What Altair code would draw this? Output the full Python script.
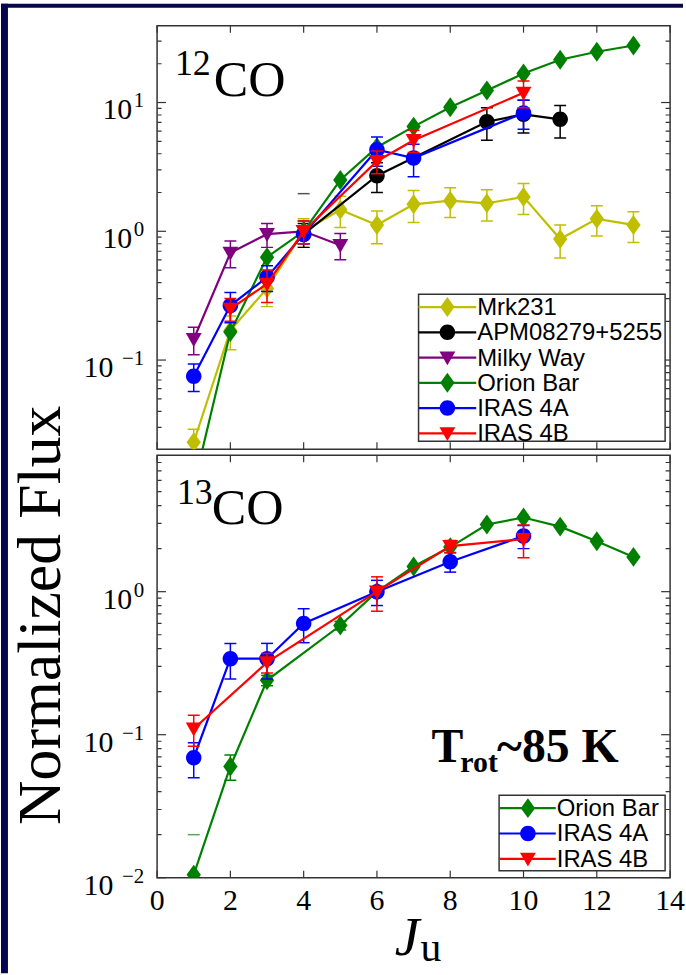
import altair as alt
import pandas as pd

# ---------------- data ----------------
series_names = ["Mrk231", "APM08279+5255", "Milky Way", "Orion Bar", "IRAS 4A", "IRAS 4B"]
series_colors = ["#bfbf00", "#000000", "#800080", "#008000", "#0000ff", "#ff0000"]

# 12CO panel
co12_mrk_J = [1, 2, 3, 4, 5, 6, 7, 8, 9, 10, 11, 12, 13]
co12_mrk_F = [0.023, 0.17, 0.36, 1.0, 1.47, 1.12, 1.62, 1.73, 1.65, 1.85, 0.87, 1.25, 1.12]
co12_mrk_E = [0.006, 0.05, 0.10, 0.25, 0.40, 0.32, 0.45, 0.45, 0.45, 0.50, 0.25, 0.33, 0.30]

co12_apm_J = [4, 6, 9, 10, 11]
co12_apm_F = [0.95, 2.7, 7.1, 8.1, 7.4]
co12_apm_E = [0.2, 0.7, 2.0, 2.3, 2.1]

co12_mw_J = [1, 2, 3, 4, 5]
co12_mw_F = [0.145, 0.68, 0.95, 1.0, 0.78]
co12_mw_E = [0.035, 0.16, 0.20, 0.20, 0.18]

co12_ori_J = [1, 2, 3, 4, 5, 6, 7, 8, 9, 10, 11, 12, 13]
co12_ori_F = [0.0105, 0.165, 0.63, 1.0, 2.5, 4.5, 6.5, 9.2, 12.4, 16.8, 21.5, 24.8, 27.7]
co12_ori_E = [0, 0, 0, 0, 0, 0, 0, 0, 0, 0, 0, 0, 0]

co12_4a_J = [1, 2, 3, 4, 6, 7, 10]
co12_4a_F = [0.075, 0.265, 0.44, 0.95, 4.3, 3.7, 8.3]
co12_4a_E = [0.018, 0.07, 0.10, 0.15, 1.1, 1.05, 2.1]

co12_4b_J = [2, 3, 4, 6, 7, 10]
co12_4b_F = [0.25, 0.39, 1.0, 3.5, 5.1, 11.9]
co12_4b_E = [0.05, 0.11, 0.2, 0.7, 1.0, 2.8]

co12_stray_J = [4]
co12_stray_F = [1.96]

# 13CO panel
co13_ori_J = [1, 2, 3, 5, 6, 7, 8, 9, 10, 11, 12, 13]
co13_ori_F = [0.0105, 0.06, 0.24, 0.58, 1.0, 1.5, 2.05, 2.95, 3.3, 2.85, 2.25, 1.75]
co13_ori_E = [0, 0.012, 0.02, 0.04, 0, 0, 0, 0, 0, 0, 0, 0]

co13_4a_J = [1, 2, 3, 4, 6, 8, 10]
co13_4a_F = [0.069, 0.34, 0.34, 0.6, 1.0, 1.62, 2.45]
co13_4a_E = [0.019, 0.095, 0.095, 0.16, 0.2, 0.25, 0.45]

co13_4b_J = [1, 3, 6, 8, 10]
co13_4b_F = [0.11, 0.32, 1.0, 2.08, 2.33]
co13_4b_E = [0.027, 0.05, 0.27, 0.2, 0.6]

co13_stray_J = [1]
co13_stray_F = [0.02]

x_tick_values = [0, 2, 4, 6, 8, 10, 12, 14]
top_major = [0.1, 1, 10]
top_major_exp = ["\u22121", "0", "1"]
bot_major = [0.01, 0.1, 1]
bot_major_exp = ["\u22122", "\u22121", "0"]
minor_mult = [2, 3, 4, 5, 6, 7, 8, 9]

# ---------------- styling ----------------
SERIF = "Liberation Serif"
SANS = "Liberation Sans"
W, H1, H2 = 516, 426, 425
NAVY = "#050550"

DIAMOND = "M0,-1L0.72,0L0,1L-0.72,0Z"
CIRCLE = "M-0.78,0A0.78,0.78,0,1,0,0.78,0A0.78,0.78,0,1,0,-0.78,0Z"
TRI_DOWN = "M-0.8,-0.62L0.8,-0.62L0,0.78Z"
series_shapes = [DIAMOND, CIRCLE, TRI_DOWN, DIAMOND, CIRCLE, TRI_DOWN]
MSIZE = 400

xs = alt.Scale(domain=[0, 14], nice=False, zero=False)
ys_top = alt.Scale(type="log", domain=[0.0203, 39.5], nice=False)
ys_bot = alt.Scale(type="log", domain=[0.01, 9.0], nice=False)

dummy = pd.DataFrame({"v": [0]})


def series_layers(J, F, E, color, shape, ys):
    df = pd.DataFrame({"J": J, "F": F, "E": E})
    base = alt.Chart(df).transform_calculate(lo="datum.F - datum.E", hi="datum.F + datum.E")
    X = alt.X("J:Q", scale=xs, axis=None)
    line = base.mark_line(color=color, strokeWidth=2.2, clip=True).encode(
        x=X, y=alt.Y("F:Q", scale=ys, axis=None))
    eb = base.transform_filter("datum.E > 0")
    bar = eb.mark_rule(color=color, strokeWidth=1.5, clip=True).encode(
        x=X, y=alt.Y("lo:Q", scale=ys, axis=None), y2="hi:Q")
    caphi = eb.mark_rule(color=color, strokeWidth=1.5, clip=True, xOffset=-6, x2Offset=6).encode(
        x=X, x2="J:Q", y=alt.Y("hi:Q", scale=ys, axis=None))
    caplo = eb.mark_rule(color=color, strokeWidth=1.5, clip=True, xOffset=-6, x2Offset=6).encode(
        x=X, x2="J:Q", y=alt.Y("lo:Q", scale=ys, axis=None))
    pts = base.mark_point(shape=shape, size=MSIZE, filled=True, color=color, opacity=1,
                          clip=True).encode(x=X, y=alt.Y("F:Q", scale=ys, axis=None))
    return [line, bar, caphi, caplo, pts]


def stray_caps(J, F, color, ys):
    df = pd.DataFrame({"J": J, "F": F})
    return alt.Chart(df).mark_rule(color=color, strokeWidth=1.5, xOffset=-6, x2Offset=6).encode(
        x=alt.X("J:Q", scale=xs, axis=None), x2="J:Q", y=alt.Y("F:Q", scale=ys, axis=None))


def tick_layers(H, ys, major, major_exp, show_x_labels):
    lo, hi = ys.domain
    minor = [m * d for d in [0.001, 0.01, 0.1, 1, 10] for m in minor_mult if lo <= m * d <= hi]
    dx = pd.DataFrame({"t": x_tick_values})
    dmaj = pd.DataFrame({"t": major, "e": major_exp})
    dmin = pd.DataFrame({"t": minor})
    tk = dict(color="#333333", strokeWidth=1.2)
    X = alt.X("t:Q", scale=xs, axis=None)
    Yt = alt.Y("t:Q", scale=ys, axis=None)
    layers = [
        alt.Chart(dx).mark_rule(**tk).encode(x=X, y=alt.value(H), y2=alt.value(H - 7)),
        alt.Chart(dx).mark_rule(**tk).encode(x=X, y=alt.value(0), y2=alt.value(7)),
        alt.Chart(dmaj).mark_rule(**tk).encode(y=Yt, x=alt.value(0), x2=alt.value(9)),
        alt.Chart(dmaj).mark_rule(**tk).encode(y=Yt, x=alt.value(W), x2=alt.value(W - 9)),
        alt.Chart(dmin).mark_rule(clip=True, **tk).encode(y=Yt, x=alt.value(0), x2=alt.value(4.5)),
        alt.Chart(dmin).mark_rule(clip=True, **tk).encode(y=Yt, x=alt.value(W), x2=alt.value(W - 4.5)),
    ]
    # y tick labels: "10" with a raised exponent
    lab = alt.Chart(dmaj).transform_calculate(
        bx="-13 - (length(datum.e) > 1 ? 31 : 12)", base="'10'")
    layers.append(lab.mark_text(align="right", baseline="alphabetic", font=SERIF, fontSize=30,
                                color="black", dy=17).encode(
        y=Yt, x=alt.X("bx:Q", scale=None, axis=None), text="base:N"))
    layers.append(alt.Chart(dmaj).mark_text(align="right", baseline="alphabetic", font=SERIF,
                                            fontSize=21, color="black", dy=5).encode(
        y=Yt, x=alt.value(-13), text="e:N"))
    if show_x_labels:
        layers.append(alt.Chart(dx).mark_text(align="center", baseline="top", font=SERIF,
                                              fontSize=30, color="black").encode(
            x=X, y=alt.value(H + 8), text=alt.Text("t:Q", format="d")))
    return layers


def txt(s, x, y, size, font=SERIF, weight="normal", style="normal", align="left",
        baseline="alphabetic", angle=0, color="black"):
    return alt.Chart(dummy).mark_text(text=s, fontSize=size, font=font, fontWeight=weight,
                                      fontStyle=style, align=align, baseline=baseline,
                                      angle=angle, color=color).encode(x=alt.value(x), y=alt.value(y))


def legend_layers(idx, box, row_y0, row_dy, line_x0, line_x1, marker_x, label_x):
    names = [series_names[i] for i in idx]
    colors = [series_colors[i] for i in idx]
    shapes = [series_shapes[i] for i in idx]
    df = pd.DataFrame({"series": names, "row": list(range(len(names)))})
    base = alt.Chart(df).transform_calculate(ly=f"{row_y0} + {row_dy} * datum.row")
    Y = alt.Y("ly:Q", scale=None, axis=None)
    C = alt.Color("series:N", scale=alt.Scale(domain=names, range=colors), legend=None)
    S = alt.Shape("series:N", scale=alt.Scale(domain=names, range=shapes), legend=None)
    x0, x1, y0, y1 = box
    boxl = alt.Chart(dummy).mark_rect(fill="white", stroke="#333333", strokeWidth=1.5).encode(
        x=alt.value(x0), x2=alt.value(x1), y=alt.value(y0), y2=alt.value(y1))
    lines = base.mark_rule(strokeWidth=2.2).encode(x=alt.value(line_x0), x2=alt.value(line_x1), y=Y, color=C)
    marks = base.mark_point(size=MSIZE, filled=True, opacity=1).encode(
        x=alt.value(marker_x), y=Y, color=C, shape=S)
    labels = base.mark_text(align="left", baseline="middle", font=SANS, fontSize=24,
                            color="black", dy=1).encode(x=alt.value(label_x), y=Y, text="series:N")
    return [boxl, lines, marks, labels]


# ---------------- top panel (12CO) ----------------
frame = [
    alt.Chart(dummy).mark_rect(color=NAVY).encode(
        x=alt.value(-157), x2=alt.value(-150), y=alt.value(-22), y2=alt.value(953)),
    alt.Chart(dummy).mark_rect(color=NAVY).encode(
        x=alt.value(-157), x2=alt.value(529), y=alt.value(-22), y2=alt.value(-18)),
]

top_layers = frame + tick_layers(H1, ys_top, top_major, top_major_exp, False)
top_layers += series_layers(co12_mrk_J, co12_mrk_F, co12_mrk_E, series_colors[0], DIAMOND, ys_top)
top_layers += series_layers(co12_apm_J, co12_apm_F, co12_apm_E, series_colors[1], CIRCLE, ys_top)
top_layers += series_layers(co12_mw_J, co12_mw_F, co12_mw_E, series_colors[2], TRI_DOWN, ys_top)
top_layers += series_layers(co12_ori_J, co12_ori_F, co12_ori_E, series_colors[3], DIAMOND, ys_top)
top_layers += series_layers(co12_4a_J, co12_4a_F, co12_4a_E, series_colors[4], CIRCLE, ys_top)
top_layers += series_layers(co12_4b_J, co12_4b_F, co12_4b_E, series_colors[5], TRI_DOWN, ys_top)
top_layers.append(stray_caps(co12_stray_J, co12_stray_F, "#555555", ys_top))
top_layers += legend_layers([0, 1, 2, 3, 4, 5], (263, 511, 270, 418), 283, 25.4, 263, 321, 292, 322)
top_layers += [txt("12", 18, 50, 36), txt("CO", 57, 71, 52)]

top = alt.layer(*top_layers).properties(width=W, height=H1)

# ---------------- bottom panel (13CO) ----------------
bot_layers = tick_layers(H2, ys_bot, bot_major, bot_major_exp, True)
bot_layers += series_layers(co13_ori_J, co13_ori_F, co13_ori_E, series_colors[3], DIAMOND, ys_bot)
bot_layers += series_layers(co13_4a_J, co13_4a_F, co13_4a_E, series_colors[4], CIRCLE, ys_bot)
bot_layers += series_layers(co13_4b_J, co13_4b_F, co13_4b_E, series_colors[5], TRI_DOWN, ys_bot)
bot_layers.append(stray_caps(co13_stray_J, co13_stray_F, "#55aa55", ys_bot))
bot_layers += legend_layers([3, 4, 5], (344, 511, 342, 418), 355, 25.5, 344, 401, 373, 402)
bot_layers += [
    txt("13", 20, 49, 36), txt("CO", 55, 69, 52),
    txt("T", 276, 309, 48, weight="bold"),
    txt("rot", 305, 319, 30, weight="bold"),
    txt("~85 K", 342, 309, 48, weight="bold"),
    txt("Normalized Flux", -98, 161, 62, align="center", angle=270),
    txt("J", 264, 503, 56, style="italic", align="right"),
    txt("u", 265, 509, 42),
]

bot = alt.layer(*bot_layers).properties(width=W, height=H2)

chart = alt.VConcatChart(vconcat=[top, bot], spacing=6, bounds="flush").resolve_scale(
    x="independent", y="independent", color="independent", shape="independent"
).properties(padding=0, background="white").configure_view(stroke="#333333", strokeWidth=1.5)

chart.save("out.html", embed_options={"renderer": "svg", "actions": False})
